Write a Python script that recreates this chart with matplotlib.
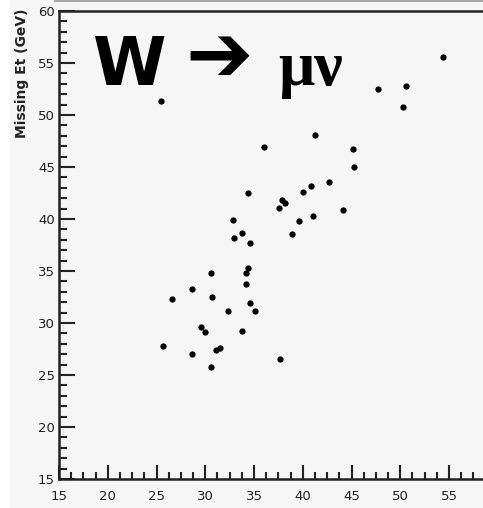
import matplotlib
matplotlib.use("Agg")
import matplotlib.pyplot as plt
from matplotlib.ticker import MultipleLocator
from matplotlib.patches import Rectangle
from matplotlib.lines import Line2D

# Transverse muon momentum vs missing transverse energy, W -> mu nu candidates
pt_mu = [25.46, 54.38, 47.72, 50.59, 50.28, 41.26, 36.03, 45.15, 45.26, 42.69,
         40.85, 40.03, 34.38, 37.87, 38.18, 37.56, 44.13, 41.05, 39.62, 38.90,
         32.85, 33.77, 32.95, 34.59, 34.38, 34.18, 30.59, 34.18, 28.64, 30.69,
         26.59, 34.59, 32.33, 35.10, 29.56, 29.97, 33.77, 25.67, 31.10, 31.51,
         28.64, 30.59, 37.67]
missing_et = [51.35, 55.58, 52.50, 52.79, 50.77, 48.08, 46.92, 46.73, 45.00, 43.56,
              43.17, 42.60, 42.50, 41.83, 41.54, 41.06, 40.87, 40.29, 39.81, 38.56,
              39.90, 38.65, 38.17, 37.69, 35.29, 34.81, 34.81, 33.75, 33.27, 32.50,
              32.31, 31.92, 31.15, 31.15, 29.62, 29.13, 29.23, 27.79, 27.40, 27.60,
              27.02, 25.77, 26.54]

x_ticks = [15, 20, 25, 30, 35, 40, 45, 50, 55]
y_ticks = [15, 20, 25, 30, 35, 40, 45, 50, 55, 60]

W, H = 483, 508
bg = "#f6f6f6"
fig = plt.figure(figsize=(W / 100, H / 100), dpi=100, facecolor=bg)

# white margin strip on the left and a thin rule at the very top
fig.patches.append(Rectangle((0, 0), 10 / W, 1, transform=fig.transFigure,
                             facecolor="white", edgecolor="none", zorder=0))
fig.lines.append(Line2D([55 / W, 1], [1 - 0.8 / H, 1 - 0.8 / H], transform=fig.transFigure,
                        color="#999999", lw=1.2))

left, bottom, top = 59 / W, (H - 479) / H, (H - 11) / H
ax = fig.add_axes([left, bottom, 1 - left, top - bottom], facecolor=bg)
ax.set_xlim(15, 15 + (W - 59) / 9.75)
ax.set_ylim(15, 60)

ax.plot(pt_mu, missing_et, linestyle="none", marker="o", markersize=4.5,
        color="black", markeredgewidth=0)

ax.set_xticks(x_ticks)
ax.set_yticks(y_ticks)
ax.xaxis.set_minor_locator(MultipleLocator(1.25))
ax.yaxis.set_minor_locator(MultipleLocator(1))
ax.set_xticklabels([str(v) for v in x_ticks])
ax.set_yticklabels([str(v) for v in y_ticks])

ax.tick_params(axis="both", which="both", direction="in", color="#222222",
               labelsize=9.5, labelcolor="#222222")
ax.tick_params(axis="y", which="major", length=11.5, width=1.5, pad=3)
ax.tick_params(axis="y", which="minor", length=6, width=1.5)
ax.tick_params(axis="x", which="major", length=10, width=1.5, pad=8)
ax.tick_params(axis="x", which="minor", length=5, width=1.5)
ax.tick_params(top=False, right=False, which="both")

for side in ("left", "bottom", "top"):
    ax.spines[side].set_linewidth(1.8)
    ax.spines[side].set_color("#222222")
ax.spines["right"].set_visible(False)

fig.text(22 / W, 1 - 9 / H, "Missing Et (GeV)", rotation=90, ha="center", va="top",
         fontsize=10, fontweight="bold", color="#222222")

fig.text(92 / W, 1 - 85 / H, "W", fontsize=48, fontweight="bold",
         family="DejaVu Sans", ha="left", va="baseline")
fig.text(185 / W, 1 - 59 / H, "\u2794", fontsize=58, fontweight="bold",
         family="DejaVu Sans", ha="left", va="center")
fig.text(278 / W, 1 - 85 / H, "\u03bc\u03bd", fontsize=46, fontweight="bold",
         family="Liberation Serif", ha="left", va="baseline")

fig.savefig("out.png", dpi=100, facecolor=bg)
